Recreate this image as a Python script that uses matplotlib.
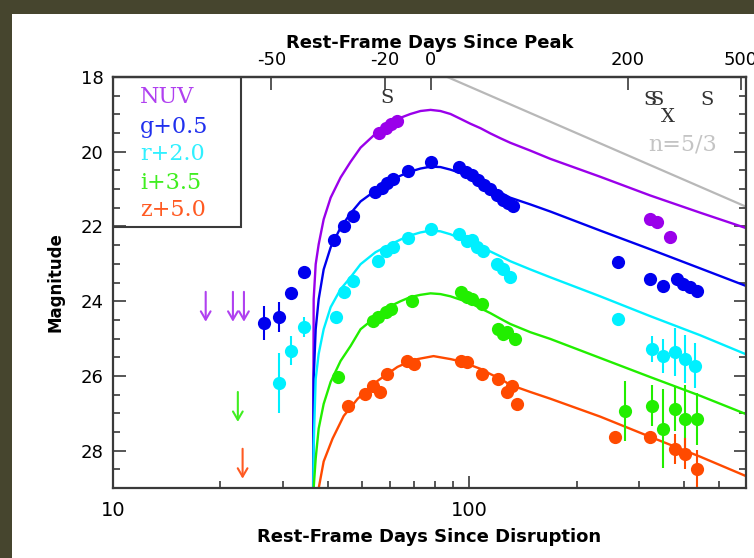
import matplotlib
matplotlib.use('Agg')
import matplotlib.pyplot as plt
from matplotlib.patches import Rectangle
from matplotlib.ticker import FixedLocator, NullFormatter, MultipleLocator, LogLocator

# ---------------- data ----------------
band_labels = ['NUV', 'g+0.5', 'r+2.0', 'i+3.5', 'z+5.0']
line_colors = ['#9a00ea', '#0000ee', '#00f0ff', '#22ee00', '#ff4a00']
text_colors = ['#b040f0', '#2030ee', '#30f0ff', '#40ee20', '#ff5a22']

t_peak = 77.8
peak_ticks = [-50, -20, 0, 200, 500]
peak_labels = ['-50', '-20', '0', '200', '500']
peak_minor = [-55]

# model light curves (days since disruption, magnitude)
curve_t = [36.4, 36.56, 37.04, 37.76, 39.0, 40.8, 43.5, 46.4, 49.5, 54.5, 60.1, 64.1, 68.3, 72.9,
           77.8, 82.9, 88.5, 94.4, 100.6, 107.4, 114.5, 122.2, 130.2, 148.2, 168.6, 232.8, 321.4,
           443.6, 600]
nuv_curve = [30.0, 23.95, 23.01, 22.48, 21.81, 21.23, 20.69, 20.27, 19.89, 19.52, 19.23, 19.09, 18.99,
             18.91, 18.88, 18.91, 18.99, 19.12, 19.25, 19.37, 19.51, 19.64, 19.76, 19.97, 20.19, 20.67,
             21.17, 21.63, 22.05]
g_curve = [30.0, 26.08, 24.75, 23.95, 23.15, 22.56, 22.03, 21.65, 21.33, 21.04, 20.77, 20.64, 20.53,
           20.45, 20.40, 20.41, 20.48, 20.57, 20.69, 20.83, 20.96, 21.09, 21.23, 21.41, 21.60, 22.11,
           22.61, 23.12, 23.60]
r_curve = [30.0, 27.87, 26.08, 25.41, 24.75, 24.16, 23.68, 23.36, 23.01, 22.69, 22.48, 22.35, 22.24,
           22.16, 22.11, 22.13, 22.21, 22.32, 22.43, 22.55, 22.67, 22.80, 22.93, 23.15, 23.36, 23.87,
           24.40, 24.91, 25.43]
i_curve = [30.5, 29.0, 28.21, 27.41, 26.75, 26.16, 25.60, 25.20, 24.75, 24.43, 24.13, 24.00, 23.89,
           23.83, 23.79, 23.81, 23.87, 23.96, 24.05, 24.19, 24.32, 24.47, 24.61, 24.83, 25.01, 25.52,
           26.03, 26.53, 27.03]
z_curve_t = [37.27, 37.76, 39.0, 41.3, 44.4, 48.6, 55.3, 62.8, 67.0, 71.5, 79.3, 88.5, 94.4, 100.6,
             107.4, 114.5, 122.2, 130.2, 148.2, 168.6, 232.8, 321.4, 443.6, 600]
z_curve = [29.55, 29.01, 28.29, 27.68, 27.07, 26.61, 26.13, 25.76, 25.64, 25.55, 25.47, 25.55, 25.61,
           25.71, 25.81, 25.95, 26.08, 26.24, 26.43, 26.61, 27.09, 27.63, 28.16, 28.69]

# n=5/3 reference line
ref_t = [86.7, 600]
ref_m = [18.0, 21.48]

# photometry
nuv_t = [55.6, 58.2, 60.1, 62.5, 321.4, 336.0, 366.0]
nuv_m = [19.49, 19.36, 19.25, 19.17, 21.81, 21.89, 22.27]
nuv_e = [0, 0, 0, 0, 0, 0, 0]

g_t = [26.5, 29.2, 31.5, 34.3, 41.6, 44.4, 47.0, 54.5, 56.8, 58.9, 60.9, 67.4, 77.8,
       93.2, 98.1, 102.0, 106.0, 110.2, 114.5, 119.8, 124.5, 128.6, 132.8,
       261.5, 321.4, 349.4, 382.4, 397.5, 416.0, 435.0]
g_m = [24.59, 24.43, 23.79, 23.23, 22.35, 22.00, 21.73, 21.07, 20.96, 20.83, 20.72, 20.51, 20.27,
       20.40, 20.53, 20.61, 20.75, 20.88, 20.99, 21.17, 21.28, 21.36, 21.44,
       22.96, 23.41, 23.60, 23.41, 23.55, 23.63, 23.73]
g_e = [0.45, 0.40, 0.08, 0.08, 0, 0, 0, 0, 0, 0, 0, 0, 0,
       0, 0, 0, 0, 0, 0, 0, 0, 0, 0,
       0, 0.05, 0.05, 0.05, 0.05, 0.05, 0.05]

r_t = [29.2, 31.5, 34.3, 42.1, 44.4, 47.0, 55.3, 58.2, 60.9, 67.4, 77.8,
       93.2, 98.7, 102.0, 105.3, 109.4, 119.8, 124.5, 130.2,
       261.5, 325.5, 349.4, 377.6, 402.4, 429.5]
r_m = [26.19, 25.33, 24.69, 24.43, 23.76, 23.47, 22.93, 22.67, 22.56, 22.32, 22.08,
       22.21, 22.40, 22.35, 22.56, 22.67, 23.01, 23.15, 23.36,
       24.48, 25.28, 25.47, 25.36, 25.55, 25.73]
r_e = [0.80, 0.39, 0.28, 0, 0, 0, 0, 0, 0, 0, 0,
       0, 0, 0, 0, 0, 0, 0, 0,
       0, 0.36, 0.45, 0.65, 0.65, 0.60]

i_t = [42.7, 53.8, 55.3, 58.2, 60.1, 69.2, 94.4, 98.7, 102.0, 108.7, 120.6, 124.5, 127.8, 134.5,
       273.5, 325.5, 349.4, 377.6, 402.4, 435.3]
i_m = [26.03, 24.53, 24.43, 24.29, 24.21, 24.00, 23.76, 23.89, 23.95, 24.08, 24.75, 24.88, 24.83, 25.01,
       26.93, 26.80, 27.41, 26.88, 27.15, 27.15]
i_e = [0.12, 0, 0, 0, 0, 0, 0, 0, 0, 0, 0, 0, 0, 0,
       0.80, 0.55, 1.05, 0.60, 0.90, 0.70]

z_t = [45.5, 51.1, 53.8, 56.3, 58.9, 67.0, 69.7, 94.4, 98.7, 108.7, 120.6, 127.8, 131.9, 136.3,
       256.5, 321.4, 377.6, 402.4, 435.3]
z_m = [26.80, 26.48, 26.27, 26.43, 25.95, 25.60, 25.68, 25.60, 25.63, 25.95, 26.08, 26.43, 26.27, 26.75,
       27.63, 27.63, 27.95, 28.08, 28.48]
z_e = [0, 0, 0, 0, 0, 0, 0, 0, 0, 0, 0, 0, 0, 0,
       0.15, 0.15, 0.40, 0.42, 0.50]

# upper limits (start of the arrow)
nuv_lim_t = [18.2, 21.7, 23.3]
nuv_lim_m = [23.75, 23.75, 23.75]
i_lim_t = [22.4]
i_lim_m = [26.43]
z_lim_t = [23.1]
z_lim_m = [27.95]

# spectroscopy epochs
spec_t = [58.9, 321.0, 336.0, 464.0]
spec_m = [18.56, 18.61, 18.61, 18.61]
xray_t = [360.9]
xray_m = [19.07]

# ---------------- figure ----------------
fig = plt.figure(figsize=(7.54, 5.58), dpi=100, facecolor='#46452e')
fig.patches.append(Rectangle((12 / 754, 0), 1, 1 - 14 / 558, transform=fig.transFigure,
                             facecolor='white', edgecolor='none', zorder=-10))
ax = fig.add_axes([113 / 754, 1 - 488 / 558, 633 / 754, 411 / 558])
ax.set_xscale('log')
ax.set_xlim(10, 597)
ax.set_ylim(29, 18)

frame = '#3a3a3a'
for s in ax.spines.values():
    s.set_color(frame)
    s.set_linewidth(1.6)

# reference line
ax.plot(ref_t, ref_m, color='#b8b8b8', lw=1.6, zorder=1)
ax.text(397, 19.81, 'n=5/3', color='#c4c4c4', fontsize=16, family='DejaVu Serif',
        ha='center', va='center')

curves = [(curve_t, nuv_curve), (curve_t, g_curve), (curve_t, r_curve), (curve_t, i_curve),
          (z_curve_t, z_curve)]
for (ct, cm), c in zip(curves, line_colors):
    ax.plot(ct, cm, color=c, lw=1.7, zorder=2, solid_capstyle='butt', solid_joinstyle='round')

datasets = [(nuv_t, nuv_m, nuv_e), (g_t, g_m, g_e), (r_t, r_m, r_e), (i_t, i_m, i_e), (z_t, z_m, z_e)]
for (t, m, e), c in zip(datasets, line_colors):
    ax.errorbar(t, m, yerr=e, fmt='o', ms=9.5, color=c, mec=c, mew=0, ecolor=c,
                elinewidth=1.5, capsize=3, capthick=1.5, zorder=3)

lims = [(nuv_lim_t, nuv_lim_m, text_colors[0]), (i_lim_t, i_lim_m, text_colors[3]),
        (z_lim_t, z_lim_m, text_colors[4])]
for lt, lm, c in lims:
    for tt, mm in zip(lt, lm):
        ax.annotate('', xy=(tt, mm + 0.8), xytext=(tt, mm),
                    arrowprops=dict(arrowstyle='->,head_length=0.6,head_width=0.35', color=c, lw=1.5,
                                    shrinkA=0, shrinkB=0), zorder=3)

for tt, mm in zip(spec_t, spec_m):
    ax.text(tt, mm, 'S', fontsize=14, family='DejaVu Serif', color='#333333', ha='center', va='center')
for tt, mm in zip(xray_t, xray_m):
    ax.text(tt, mm, 'X', fontsize=14, family='DejaVu Serif', color='#333333', ha='center', va='center')

# legend box
ax.add_patch(Rectangle((0, 0.635), 0.2022, 0.365, transform=ax.transAxes, fill=False,
                       edgecolor=frame, lw=1.5, zorder=4))
leg_y = [0.951, 0.878, 0.813, 0.742, 0.676]
for lab, c, yy in zip(band_labels, text_colors, leg_y):
    ax.text(0.043, yy, lab, color=c, fontsize=16, family='DejaVu Serif', transform=ax.transAxes,
            ha='left', va='center')

# ticks
ax.yaxis.set_major_locator(MultipleLocator(2))
ax.yaxis.set_minor_locator(MultipleLocator(0.5))
ax.xaxis.set_major_locator(FixedLocator([10, 100]))
ax.set_xticklabels(['10', '100'])
ax.xaxis.set_minor_locator(LogLocator(base=10, subs=range(2, 10)))
ax.xaxis.set_minor_formatter(NullFormatter())
ax.tick_params(which='both', direction='in', top=False, right=True, color=frame, width=1.2)
ax.tick_params(which='major', length=9)
ax.tick_params(which='minor', length=5)
ax.tick_params(axis='x', labelsize=14, pad=9)
ax.tick_params(axis='y', labelsize=13, pad=7)

top = ax.secondary_xaxis('top')
top.set_xticks([t_peak + d for d in peak_ticks], labels=peak_labels)
top.xaxis.set_minor_locator(FixedLocator([t_peak + d for d in peak_minor]))
top.xaxis.set_minor_formatter(NullFormatter())
top.tick_params(which='both', direction='in', color=frame, width=1.2, labelsize=13, pad=6)
top.tick_params(which='major', length=9)
top.tick_params(which='minor', length=9)
top.spines['top'].set_color(frame)
top.spines['top'].set_linewidth(1.6)
top.set_xlabel('Rest-Frame Days Since Peak', fontsize=13, fontweight='bold', labelpad=2)

ax.set_xlabel('Rest-Frame Days Since Disruption', fontsize=13, fontweight='bold', labelpad=6)
ax.set_ylabel('Magnitude', fontsize=12, fontweight='bold', labelpad=11)

fig.savefig('out.png', dpi=100, facecolor=fig.get_facecolor())
